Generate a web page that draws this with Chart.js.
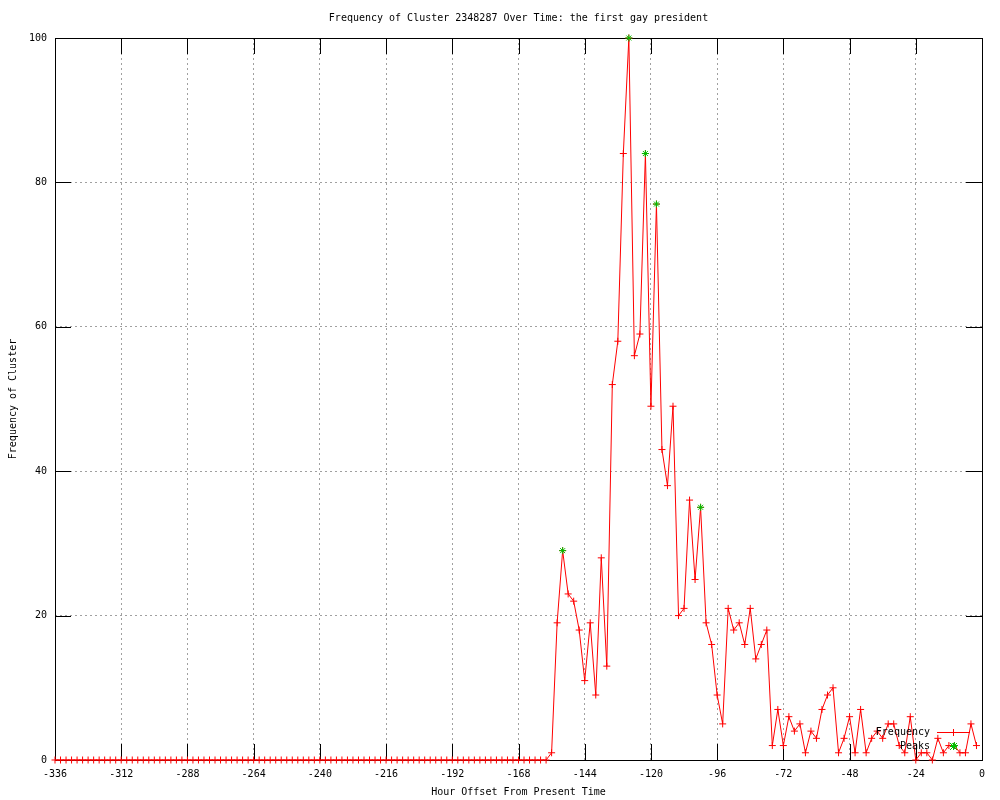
<!DOCTYPE html>
<html><head><meta charset="utf-8">
<script src="https://cdn.jsdelivr.net/npm/chart.js@4.4.0/dist/chart.umd.min.js"></script>
<style>html,body{margin:0;padding:0;background:#fff}#wrap{width:1000px;height:800px}</style>
</head><body><div id="wrap"><canvas id="c" width="1000" height="800"></canvas></div>
<script>
const titleText = 'Frequency of Cluster 2348287 Over Time: the first gay president';
const xTitle = 'Hour Offset From Present Time';
const yTitle = 'Frequency of Cluster';
const legendLabels = ['Frequency', 'Peaks'];

const hours = [
 -336,-334,-332,-330,-328,-326,-324,-322,-320,-318,-316,-314,-312,-310,-308,-306,-304,-302,-300,-298,
 -296,-294,-292,-290,-288,-286,-284,-282,-280,-278,-276,-274,-272,-270,-268,-266,-264,-262,-260,-258,
 -256,-254,-252,-250,-248,-246,-244,-242,-240,-238,-236,-234,-232,-230,-228,-226,-224,-222,-220,-218,
 -216,-214,-212,-210,-208,-206,-204,-202,-200,-198,-196,-194,-192,-190,-188,-186,-184,-182,-180,-178,
 -176,-174,-172,-170,-168,-166,-164,-162,-160,-158,-156,-154,-152,-150,-148,-146,-144,-142,-140,-138,
 -136,-134,-132,-130,-128,-126,-124,-122,-120,-118,-116,-114,-112,-110,-108,-106,-104,-102,-100,-98,
 -96,-94,-92,-90,-88,-86,-84,-82,-80,-78,-76,-74,-72,-70,-68,-66,-64,-62,-60,-58,
 -56,-54,-52,-50,-48,-46,-44,-42,-40,-38,-36,-34,-32,-30,-28,-26,-24,-22,-20,-18,
 -16,-14,-12,-10,-8,-6,-4,-2
];
const frequency = [
 0,0,0,0,0,0,0,0,0,0,0,0,0,0,0,0,0,0,0,0,
 0,0,0,0,0,0,0,0,0,0,0,0,0,0,0,0,0,0,0,0,
 0,0,0,0,0,0,0,0,0,0,0,0,0,0,0,0,0,0,0,0,
 0,0,0,0,0,0,0,0,0,0,0,0,0,0,0,0,0,0,0,0,
 0,0,0,0,0,0,0,0,0,0,1,19,29,23,22,18,11,19,9,28,
 13,52,58,84,100,56,59,84,49,77,43,38,49,20,21,36,25,35,19,16,
 9,5,21,18,19,16,21,14,16,18,2,7,2,6,4,5,1,4,3,7,
 9,10,1,3,6,1,7,1,3,4,3,5,5,2,1,6,0,1,1,0,
 3,1,2,2,1,1,5,2
];
const peakHours = [-152,-128,-122,-118,-102,-10];
const peakValues = [29,100,84,77,35,2];
const xTicks = [-336,-312,-288,-264,-240,-216,-192,-168,-144,-120,-96,-72,-48,-24,0];
const yTicks = [0,20,40,60,80,100];

const FONT = "'DejaVu Sans Mono', 'Liberation Mono', monospace";
const RED = '#ff0000';
const GREEN = '#00c000';

const freqData = hours.map((h, i) => ({x: h, y: frequency[i]}));
const peakData = peakHours.map((h, i) => ({x: h, y: peakValues[i]}));

function drawPlus(ctx, x, y, r, color) {
  ctx.strokeStyle = color; ctx.lineWidth = 1;
  ctx.beginPath();
  ctx.moveTo(x - r, y); ctx.lineTo(x + r, y);
  ctx.moveTo(x, y - r); ctx.lineTo(x, y + r);
  ctx.stroke();
}
function drawStar(ctx, x, y, r, color) {
  ctx.strokeStyle = color; ctx.lineWidth = 1;
  ctx.beginPath();
  ctx.moveTo(x - r, y); ctx.lineTo(x + r, y);
  ctx.moveTo(x, y - r); ctx.lineTo(x, y + r);
  ctx.moveTo(x - r, y - r); ctx.lineTo(x + r, y + r);
  ctx.moveTo(x - r, y + r); ctx.lineTo(x + r, y - r);
  ctx.stroke();
}

const frame = {
  id: 'frame',
  beforeDatasetsDraw(chart) {
    const {ctx, chartArea: {left, right, top, bottom}, scales: {x, y}} = chart;
    const TL = 16;
    ctx.save();
    ctx.strokeStyle = '#000'; ctx.lineWidth = 1; ctx.setLineDash([]);
    ctx.beginPath();
    xTicks.slice(1, -1).forEach(v => {
      const px = Math.round(x.getPixelForValue(v)) + 0.5;
      ctx.moveTo(px, bottom); ctx.lineTo(px, bottom - TL);
      ctx.moveTo(px, top); ctx.lineTo(px, top + TL);
    });
    yTicks.slice(1, -1).forEach(v => {
      const py = Math.round(y.getPixelForValue(v)) + 0.5;
      ctx.moveTo(left, py); ctx.lineTo(left + TL, py);
      ctx.moveTo(right, py); ctx.lineTo(right - TL, py);
    });
    ctx.stroke();
    ctx.strokeRect(Math.round(left) + 0.5, Math.round(top) + 0.5, Math.round(right - left), Math.round(bottom - top));
    ctx.restore();
  },
  afterDraw(chart) {
    const {ctx, chartArea: {left, right, top, bottom}} = chart;
    ctx.save();
    ctx.fillStyle = '#000';
    ctx.font = '10px ' + FONT;
    ctx.textBaseline = 'middle';
    ctx.textAlign = 'center';
    ctx.fillText(titleText, (left + right) / 2, 18);
    // legend
    ctx.textAlign = 'right';
    const lx = 930, ly1 = 732, ly2 = 746;
    ctx.fillText(legendLabels[0], lx, ly1);
    ctx.fillText(legendLabels[1], lx, ly2);
    ctx.strokeStyle = RED; ctx.lineWidth = 1;
    ctx.beginPath(); ctx.moveTo(937, ly1 + 0.5); ctx.lineTo(970, ly1 + 0.5); ctx.stroke();
    drawPlus(ctx, 953.5, ly1 + 0.5, 3.5, RED);
    drawStar(ctx, 953.5, ly2 + 0.5, 3.5, GREEN);
    ctx.restore();
  }
};

new Chart(document.getElementById('c'), {
  type: 'scatter',
  data: {
    datasets: [
      {
        label: legendLabels[0], data: freqData, showLine: true,
        borderColor: RED, backgroundColor: RED, borderWidth: 1, tension: 0,
        pointStyle: 'cross', pointRadius: 3.5, pointBorderWidth: 1, pointBorderColor: RED,
        clip: false, order: 1
      },
      {
        label: legendLabels[1], data: peakData, showLine: false,
        borderColor: GREEN, backgroundColor: GREEN,
        pointStyle: 'star', pointRadius: 3.5, pointBorderWidth: 1, pointBorderColor: GREEN,
        clip: false, order: 0
      }
    ]
  },
  options: {
    responsive: false, animation: false, devicePixelRatio: 1,
    layout: {padding: {top: 38, right: 18, left: 0, bottom: 0}},
    plugins: {legend: {display: false}, title: {display: false}, tooltip: {enabled: false}},
    scales: {
      x: {
        type: 'linear', min: -336, max: 0,
        afterBuildTicks: s => { s.ticks = xTicks.map(v => ({value: v})); },
        afterFit: s => { s.height = 40; },
        ticks: {callback: v => String(v), color: '#000', font: {family: FONT, size: 10}, padding: 8, maxRotation: 0, autoSkip: false},
        grid: {color: '#a0a0a0', lineWidth: 1, drawTicks: false},
        border: {display: false, dash: [2, 3]},
        title: {display: true, text: xTitle, color: '#000', font: {family: FONT, size: 10}, padding: {top: 0, bottom: 2}}
      },
      y: {
        type: 'linear', min: 0, max: 100,
        afterBuildTicks: s => { s.ticks = yTicks.map(v => ({value: v})); },
        afterFit: s => { s.width = 55; },
        ticks: {callback: v => String(v), color: '#000', font: {family: FONT, size: 10}, padding: 8},
        grid: {color: '#a0a0a0', lineWidth: 1, drawTicks: false},
        border: {display: false, dash: [2, 3]},
        title: {display: true, text: yTitle, color: '#000', font: {family: FONT, size: 10}, padding: {top: 7, bottom: 0}}
      }
    }
  },
  plugins: [frame]
});
</script>
</body></html>
